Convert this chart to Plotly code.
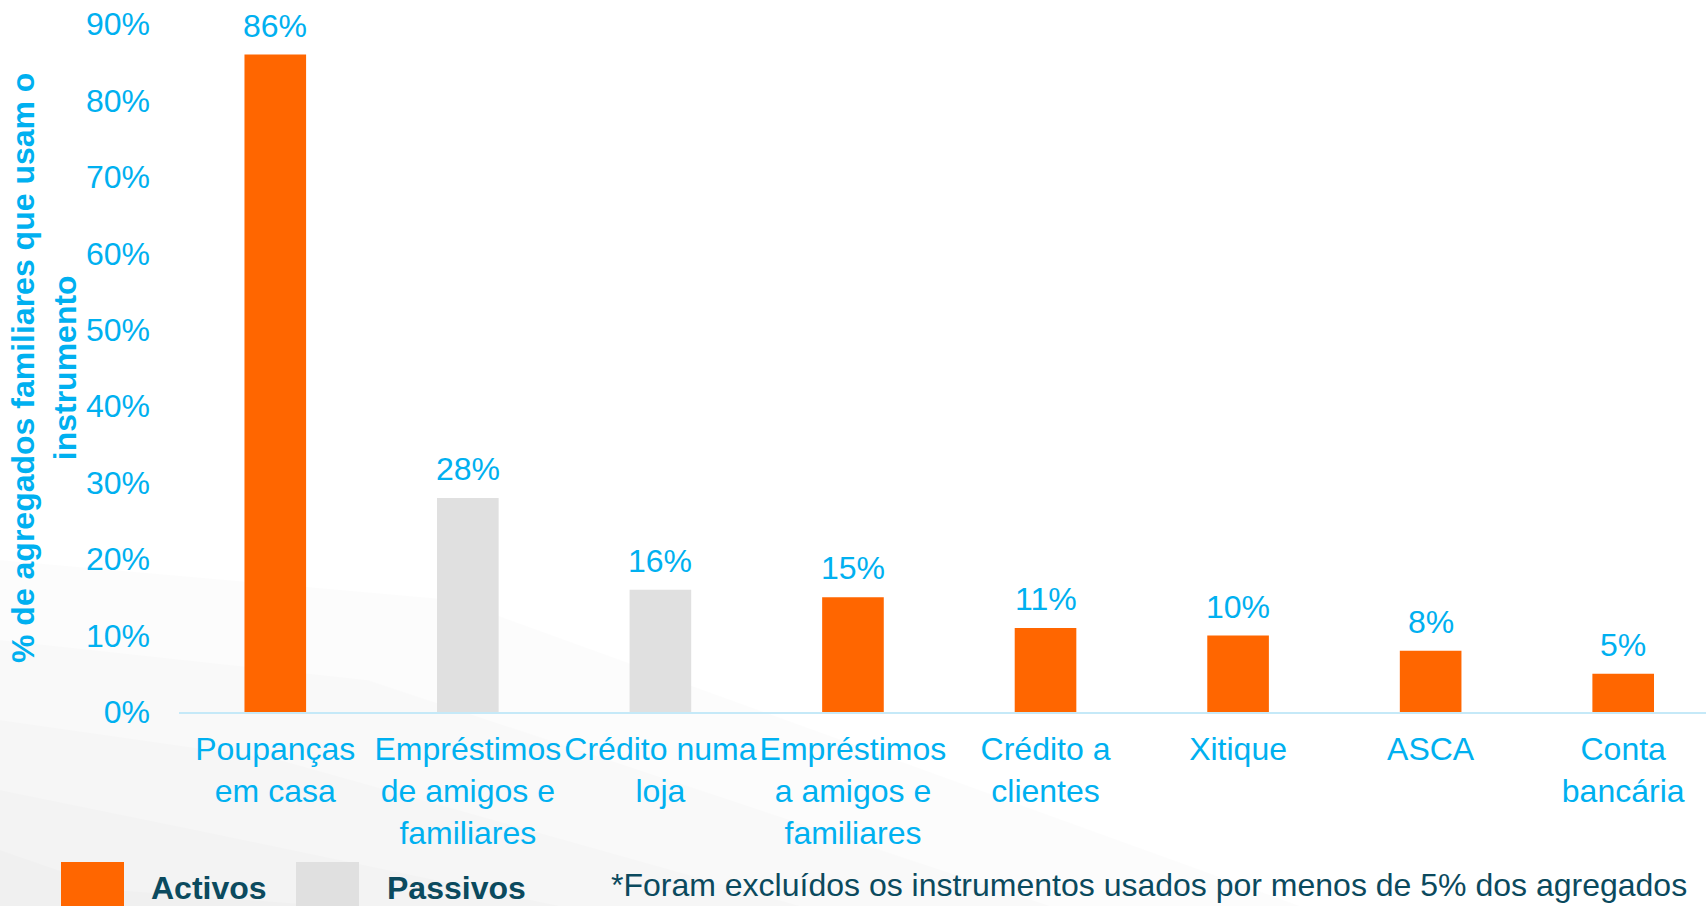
import plotly.graph_objects as go

categories = ["Poupanças<br>em casa", "Empréstimos<br>de amigos e<br>familiares", "Crédito numa<br>loja",
              "Empréstimos<br>a amigos e<br>familiares", "Crédito a<br>clientes", "Xitique", "ASCA", "Conta<br>bancária"]
values = [0.86, 0.28, 0.16, 0.15, 0.11, 0.10, 0.08, 0.05]
types = ["Activos", "Passivos", "Passivos", "Activos", "Activos", "Activos", "Activos", "Activos"]
labels = ["86%", "28%", "16%", "15%", "11%", "10%", "8%", "5%"]

ORANGE = "#FF6600"
GRAY = "#E0E0E0"
BLUE = "#00B0F0"
DARK = "#0B4A5E"
FONT = "Liberation Sans, Arial, sans-serif"
FS = 32

colors = [ORANGE if t == "Activos" else GRAY for t in types]

W, H = 1706, 906
L, R, T, B = 179, 0, 24, 194
pw, ph = W - L - R, H - T - B

def px(x):
    return (x - L) / pw

def py(y):
    return (H - B - y) / ph

fig = go.Figure()

# faint background shading in the lower-left corner (decorative)
for reach_x, reach_y in [(1300, 560), (1050, 640), (800, 720), (560, 790), (330, 850)]:
    path = "M {} {} L {} {} L {} {} L {} {} Z".format(
        px(0), py(906), px(0), py(reach_y), px(reach_x * 0.35), py(reach_y + 40), px(reach_x), py(906))
    fig.add_shape(type="path", path=path, xref="paper", yref="paper", fillcolor="rgba(0,0,0,0.013)",
                  line=dict(width=0), layer="below")

fig.add_trace(go.Bar(
    x=categories, y=values, marker=dict(color=colors, line=dict(width=0)),
    showlegend=False, hoverinfo="x+y",
))

for c, v, lab in zip(categories, values, labels):
    fig.add_annotation(x=c, y=v, text=lab, showarrow=False, yanchor="bottom", yshift=9,
                       font=dict(size=FS, color=BLUE, family=FONT))

fig.update_layout(
    width=W, height=H, margin=dict(l=L, r=R, t=T, b=B, autoexpand=False),
    paper_bgcolor="white", plot_bgcolor="rgba(0,0,0,0)", bargap=0.68,
    font=dict(family=FONT, color=BLUE, size=FS),
    xaxis=dict(showline=True, linecolor="#C5E9F8", linewidth=2, ticks="", showgrid=False,
               range=[-0.5, len(categories) - 0.57], tickangle=0,
               tickfont=dict(size=FS, color=BLUE), ticklabelstandoff=8),
    yaxis=dict(range=[0, 0.9], dtick=0.1, tickformat=".0%", showgrid=False, zeroline=False,
               showline=False, ticks="", tickfont=dict(size=FS, color=BLUE), ticklabelstandoff=28),
)

fig.add_annotation(text="<b>% de agregados familiares que usam o<br>instrumento</b>",
                   xref="paper", yref="paper", x=px(44), y=0.5, textangle=-90, showarrow=False,
                   font=dict(size=FS, color=BLUE, family=FONT), xanchor="center", yanchor="middle")

# legend
for x0, x1, c, name, tx in [(61, 124, ORANGE, "Activos", 149), (296, 359, GRAY, "Passivos", 385)]:
    fig.add_shape(type="rect", xref="paper", yref="paper", x0=px(x0), x1=px(x1), y0=py(906), y1=py(862),
                  fillcolor=c, line=dict(width=0), layer="above")
    fig.add_annotation(text="<b>" + name + "</b>", xref="paper", yref="paper", x=px(tx), y=py(888),
                       xanchor="left", yanchor="middle", showarrow=False,
                       font=dict(size=FS, color=DARK, family=FONT))

fig.add_annotation(text="*Foram excluídos os instrumentos usados por menos de 5% dos agregados",
                   xref="paper", yref="paper", x=px(609), y=py(885), xanchor="left", yanchor="middle",
                   showarrow=False, font=dict(size=FS, color=DARK, family=FONT))

fig.write_html("out.html", config={"displayModeBar": False},
               post_script="document.body.style.margin='0';document.body.style.overflow='hidden';")
